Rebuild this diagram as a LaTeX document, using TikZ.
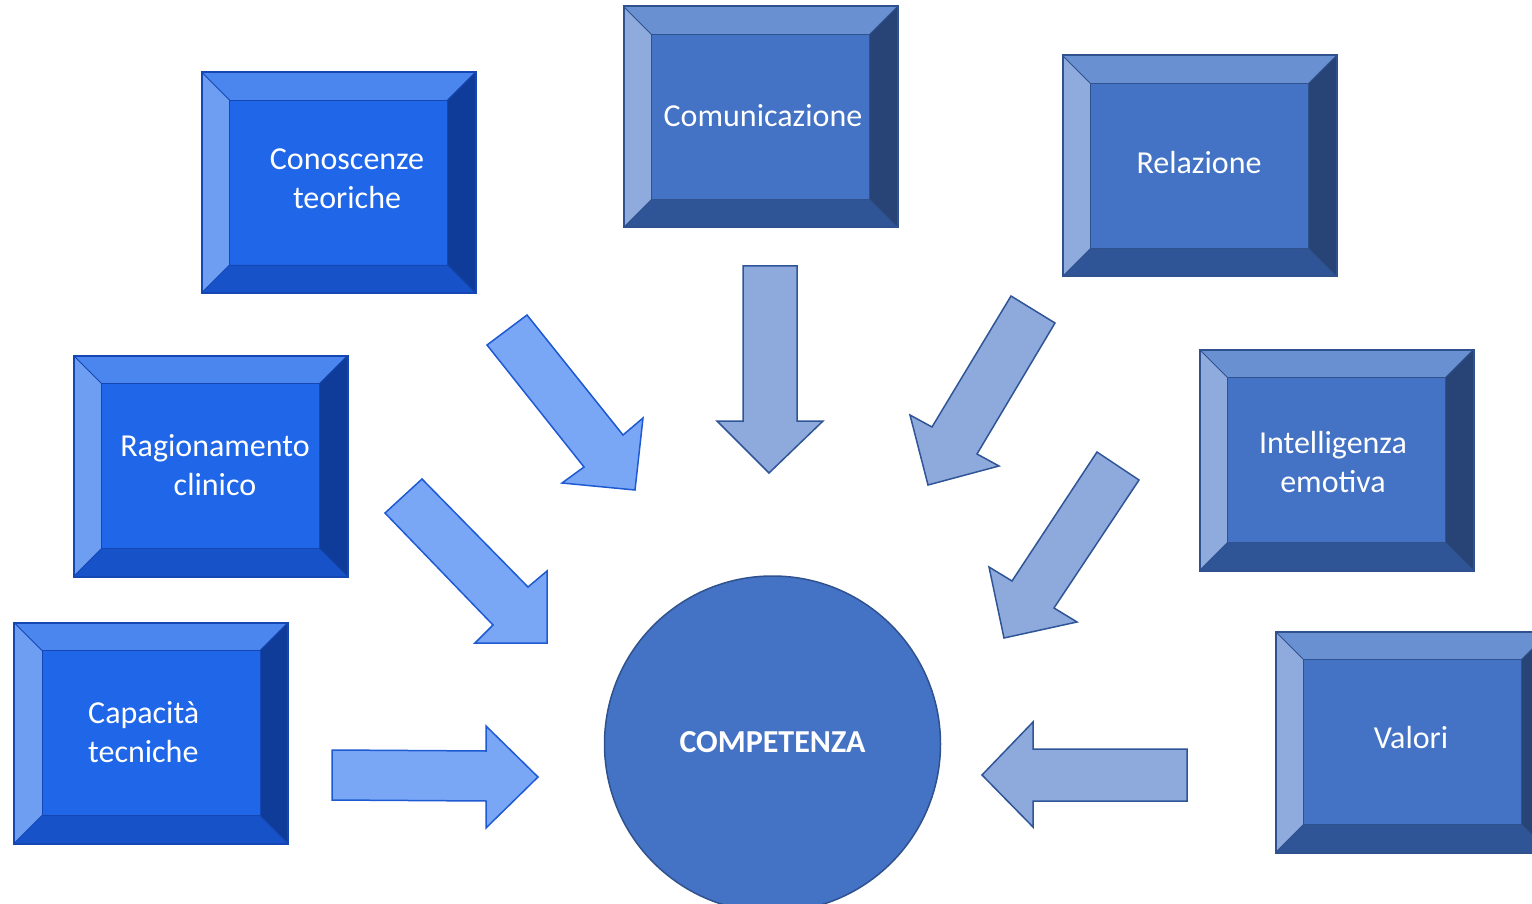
\documentclass[tikz,border=0pt]{standalone}
\usepackage{fontspec}
\setmainfont{Carlito}
\usetikzlibrary{calc}
\definecolor{Lmain}{RGB}{31,102,232}
\definecolor{Ltop}{RGB}{74,134,238}
\definecolor{Lleft}{RGB}{110,158,242}
\definecolor{Lbottom}{RGB}{23,82,200}
\definecolor{Lright}{RGB}{15,59,153}
\definecolor{Lline}{RGB}{20,71,180}
\definecolor{Rmain}{RGB}{68,114,196}
\definecolor{Rtop}{RGB}{105,144,208}
\definecolor{Rleft}{RGB}{143,170,220}
\definecolor{Rbottom}{RGB}{47,85,151}
\definecolor{Rright}{RGB}{40,68,118}
\definecolor{Rline}{RGB}{47,82,143}
\definecolor{LAfill}{RGB}{122,166,246}
\definecolor{LAline}{RGB}{30,90,210}
\definecolor{RAfill}{RGB}{142,169,219}
\definecolor{RAline}{RGB}{47,85,151}
\tikzset{
  boxbase/.style={rectangle, minimum width=274pt, minimum height=221pt, inner sep=0pt, outer sep=0pt},
  boxtext/.style={text=white, font=\fontsize{32}{39}\selectfont, align=center, inner sep=0pt},
  larrow/.style={fill=LAfill, draw=LAline, line width=1.5pt, line join=miter},
  rarrow/.style={fill=RAfill, draw=RAline, line width=1.5pt, line join=miter},
}
\newcommand{\bevelbox}[3]{% name, center, palette
  \node[boxbase, fill=#3main] (#1) at #2 {};
  \coordinate (#1-nw) at ($(#1.north west)+(28,28)$);
  \coordinate (#1-ne) at ($(#1.north east)+(-28,28)$);
  \coordinate (#1-se) at ($(#1.south east)+(-28,-28)$);
  \coordinate (#1-sw) at ($(#1.south west)+(28,-28)$);
  \fill[#3top] (#1.north west) -- (#1.north east) -- (#1-ne) -- (#1-nw) -- cycle;
  \fill[#3left] (#1.north west) -- (#1-nw) -- (#1-sw) -- (#1.south west) -- cycle;
  \fill[#3bottom] (#1.south west) -- (#1-sw) -- (#1-se) -- (#1.south east) -- cycle;
  \fill[#3right] (#1.north east) -- (#1.south east) -- (#1-se) -- (#1-ne) -- cycle;
  \draw[#3line, line width=0.8pt] (#1-nw) rectangle (#1-se);
  \draw[#3line, line width=0.8pt] (#1.north west) -- (#1-nw) (#1.north east) -- (#1-ne) (#1.south east) -- (#1-se) (#1.south west) -- (#1-sw);
  \draw[#3line, line width=2pt] (#1.north west) rectangle (#1.south east);
}
\begin{document}
\begin{tikzpicture}[x=1pt, y=-1pt]
\useasboundingbox (0,0) rectangle (1532,904);
% boxes
\bevelbox{cono}{(338.5,182.5)}{L}
\node[boxtext] (conot) at (347,179) {Conoscenze\\teoriche};
\bevelbox{ragi}{(210.5,466)}{L}
\node[boxtext] (ragit) at (215,465) {Ragionamento\\clinico};
\bevelbox{capa}{(151,733)}{L}
\node[boxtext, align=left, anchor=west] (capat) at (88,732) {Capacità\\tecniche};
\bevelbox{comu}{(760.5,117)}{R}
\node[boxtext] (comut) at (763,116) {Comunicazione};
\bevelbox{rela}{(1199.5,166)}{R}
\node[boxtext] (relat) at (1199,163) {Relazione};
\bevelbox{inte}{(1336.5,460)}{R}
\node[boxtext] (intet) at (1333,462) {Intelligenza\\emotiva};
\bevelbox{valo}{(1412.5,742)}{R}
\node[boxtext] (valot) at (1411,738) {Valori};
% centre
\node[circle, minimum size=336pt, inner sep=0pt, fill=Rmain, draw=Rline, line width=1.5pt,
  text=white, font=\fontsize{32}{39}\selectfont\bfseries] (comp) at (772.5,744) {};
\node[text=white, font=\fontsize{32}{39}\selectfont\bfseries, inner sep=0pt] (compt) at (772.5,742) {COMPETENZA};
% arrows (left family)
\draw[larrow] (332,750) -- (486,751) -- (486,726) -- (538,777) -- (486,828) -- (486,801) -- (332,800) -- cycle;
\draw[larrow] (385,513) -- (422,479) -- (528,587) -- (547,571) -- (547,643) -- (475,643) -- (493,625) -- cycle;
\draw[larrow] (487,345) -- (527,315) -- (623,435) -- (643,418) -- (635,490) -- (562,483) -- (584,467) -- cycle;
% arrows (right family)
\draw[rarrow] (743,266) -- (797,266) -- (797,421) -- (823,421) -- (769,473) -- (717,421) -- (743,421) -- cycle;
\draw[rarrow] (1011,296) -- (1055,323) -- (977,454) -- (999,466) -- (928,485) -- (910,415) -- (932,427) -- cycle;
\draw[rarrow] (1097,452) -- (1139,480) -- (1054,608) -- (1077,622) -- (1004,638) -- (989,567) -- (1012,581) -- cycle;
\draw[rarrow] (1187,749) -- (1187,801) -- (1033,801) -- (1033,827) -- (982,775) -- (1033,722) -- (1033,749) -- cycle;
\end{tikzpicture}
\end{document}
